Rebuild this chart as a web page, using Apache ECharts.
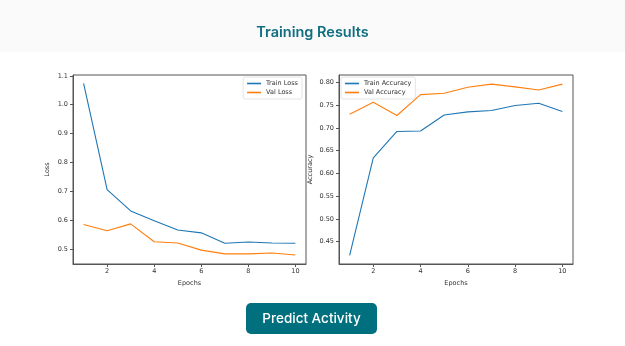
<!DOCTYPE html>
<html><head><meta charset="utf-8">
<script src="https://cdn.jsdelivr.net/npm/echarts@6/dist/echarts.min.js"></script>
<style>html,body{margin:0;padding:0;background:#fff}#c{width:625px;height:346px}</style>
</head><body><div id="c"></div>
<script>
const epochs = [1,2,3,4,5,6,7,8,9,10];
const trainLoss = [1.074,0.706,0.632,0.598,0.566,0.556,0.520,0.524,0.521,0.520];
const valLoss = [0.585,0.563,0.587,0.525,0.521,0.496,0.483,0.483,0.486,0.479];
const trainAcc = [0.420,0.634,0.692,0.693,0.728,0.735,0.738,0.749,0.754,0.736];
const valAcc = [0.730,0.756,0.727,0.773,0.776,0.789,0.796,0.790,0.783,0.796];
const xTicks = [2,4,6,8,10];
const lossTicks = [0.5,0.6,0.7,0.8,0.9,1.0,1.1];
const accTicks = [0.45,0.50,0.55,0.60,0.65,0.70,0.75,0.80];

const chart = echarts.init(document.getElementById('c'));
const F = 'DejaVu Sans';
const lab = {fontFamily:F,fontSize:6.5,color:'#333'};
function xAx(gi){return {type:'value',gridIndex:gi,min:0.55,max:10.45,
  name:'Epochs',nameLocation:'middle',nameGap:12,nameTextStyle:lab,
  axisLine:{lineStyle:{color:'#555',width:1}},
  axisTick:{customValues:xTicks,length:3,lineStyle:{color:'#555'}},
  axisLabel:Object.assign({customValues:xTicks,margin:4},lab),splitLine:{show:false}};}
function yAx(gi,min,max,ticks,dec,name,gap){return {type:'value',gridIndex:gi,min:min,max:max,
  name:name,nameLocation:'middle',nameGap:gap,nameTextStyle:lab,
  axisLine:{lineStyle:{color:'#555',width:1}},
  axisTick:{customValues:ticks,length:3,lineStyle:{color:'#555'}},
  axisLabel:Object.assign({customValues:ticks,margin:5,formatter:v=>v.toFixed(dec)},lab),splitLine:{show:false}};}
function ser(name,data,xi,color){return {name:name,type:'line',xAxisIndex:xi,yAxisIndex:xi,
  data:epochs.map((e,i)=>[e,data[i]]),symbol:'none',lineStyle:{width:1.1,color:color},itemStyle:{color:color}};}
const legendBase = {orient:'vertical',icon:'rect',itemWidth:14,itemHeight:1.6,itemGap:2,padding:[3,4,3,4],
  borderColor:'#ddd',borderWidth:0.8,borderRadius:2,backgroundColor:'#fff',
  textStyle:{fontFamily:F,fontSize:6.5,color:'#333'}};
chart.setOption({
  animation:false,
  title:{text:'Training Results',left:'center',top:20,
    textStyle:{fontFamily:'Inter',fontSize:14.5,fontWeight:600,color:'#0f6e80'}},
  graphic:[
    {type:'rect',shape:{x:0,y:0,width:625,height:52},style:{fill:'#fafafa'},z:-10},
    {type:'rect',shape:{x:246,y:303,width:131,height:31,r:5},style:{fill:'#006f7e'}},
    {type:'text',x:311.5,y:318.5,style:{text:'Predict Activity',fill:'#fff',font:'500 13.5px Inter',align:'center',verticalAlign:'middle'}}
  ],
  grid:[
    {left:73,right:319,top:75,bottom:82,show:true,borderColor:'#555',borderWidth:1,backgroundColor:'#fff'},
    {left:339,right:52,top:75,bottom:82,show:true,borderColor:'#555',borderWidth:1,backgroundColor:'#fff'}
  ],
  xAxis:[xAx(0),xAx(1)],
  yAxis:[yAx(0,0.448,1.103,lossTicks,1,'Loss',22),yAx(1,0.401,0.816,accTicks,2,'Accuracy',25)],
  legend:[
    Object.assign({},legendBase,{data:['Train Loss','Val Loss'],right:323,top:77}),
    Object.assign({},legendBase,{data:['Train Accuracy','Val Accuracy'],left:341,top:77})
  ],
  series:[ser('Train Loss',trainLoss,0,'#1f77b4'),ser('Val Loss',valLoss,0,'#ff7f0e'),
          ser('Train Accuracy',trainAcc,1,'#1f77b4'),ser('Val Accuracy',valAcc,1,'#ff7f0e')]
});
</script></body></html>
